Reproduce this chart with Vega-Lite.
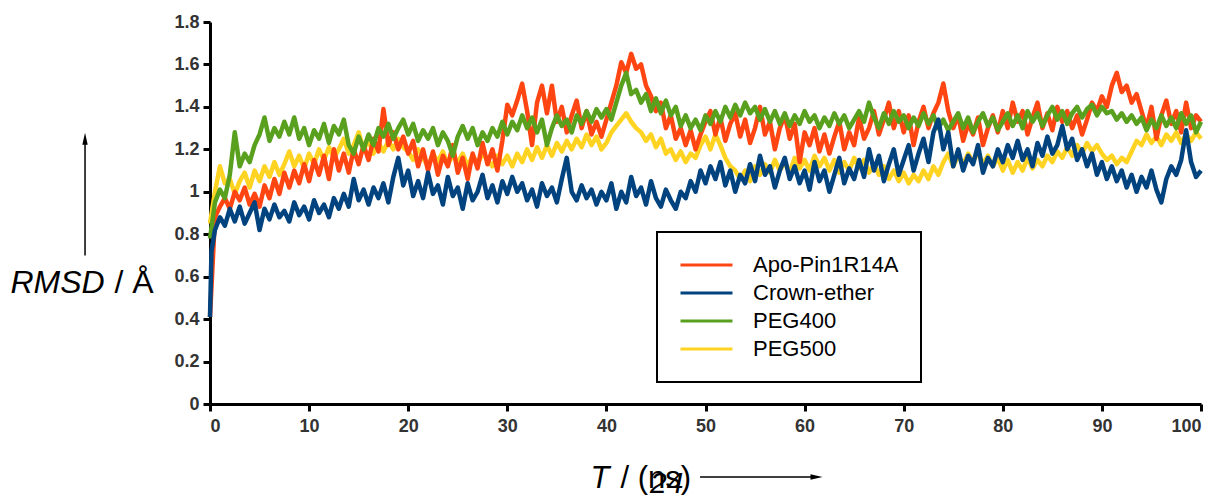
{
"$schema":"https://vega.github.io/schema/vega-lite/v6.json",
"width":991,"height":382,
"autosize":{"type":"none"},
"padding":{"left":210,"top":22,"right":22,"bottom":93},
"background":"white",
"config":{"view":{"stroke":null},
"axis":{"grid":false,"domainColor":"black","domainWidth":3,"tickColor":"black","tickWidth":3,"tickSize":7,"labelFont":"Liberation Sans","labelFontWeight":"bold","labelFontSize":18,"labelColor":"#333333","titleFont":"Liberation Sans","titleFontWeight":"normal","titleColor":"black"}},
"title":{"text":"24","orient":"bottom","anchor":"start","frame":"group","dx":440,"offset":-24,"baseline":"top","font":"Liberation Sans","fontSize":30,"fontStyle":"italic","fontWeight":"normal","color":"black"},
"datasets":{
"apo":[{"t":0,"r":0.41},{"t":0.5,"r":0.88},{"t":1,"r":0.93},{"t":1.5,"r":0.97},{"t":2,"r":0.92},{"t":2.5,"r":1.0},{"t":3,"r":0.96},{"t":3.5,"r":1.02},{"t":4,"r":0.94},{"t":4.5,"r":0.99},{"t":5,"r":0.93},{"t":5.5,"r":1.03},{"t":6,"r":0.97},{"t":6.5,"r":1.06},{"t":7,"r":0.99},{"t":7.5,"r":1.09},{"t":8,"r":1.02},{"t":8.5,"r":1.1},{"t":9,"r":1.04},{"t":9.5,"r":1.13},{"t":10,"r":1.05},{"t":10.5,"r":1.15},{"t":11,"r":1.08},{"t":11.5,"r":1.17},{"t":12,"r":1.06},{"t":12.5,"r":1.2},{"t":13,"r":1.1},{"t":13.5,"r":1.18},{"t":14,"r":1.09},{"t":14.5,"r":1.2},{"t":15,"r":1.13},{"t":15.5,"r":1.22},{"t":16,"r":1.15},{"t":16.5,"r":1.25},{"t":17,"r":1.19},{"t":17.5,"r":1.39},{"t":18,"r":1.22},{"t":18.5,"r":1.28},{"t":19,"r":1.2},{"t":19.5,"r":1.26},{"t":20,"r":1.18},{"t":20.5,"r":1.24},{"t":21,"r":1.12},{"t":21.5,"r":1.2},{"t":22,"r":1.1},{"t":22.5,"r":1.19},{"t":23,"r":1.08},{"t":23.5,"r":1.17},{"t":24,"r":1.12},{"t":24.5,"r":1.22},{"t":25,"r":1.09},{"t":25.5,"r":1.16},{"t":26,"r":1.06},{"t":26.5,"r":1.18},{"t":27,"r":1.11},{"t":27.5,"r":1.23},{"t":28,"r":1.13},{"t":28.5,"r":1.2},{"t":29,"r":1.1},{"t":29.5,"r":1.24},{"t":30,"r":1.41},{"t":30.5,"r":1.36},{"t":31,"r":1.43},{"t":31.5,"r":1.51},{"t":32,"r":1.38},{"t":32.5,"r":1.22},{"t":33,"r":1.42},{"t":33.5,"r":1.5},{"t":34,"r":1.37},{"t":34.5,"r":1.5},{"t":35,"r":1.33},{"t":35.5,"r":1.4},{"t":36,"r":1.28},{"t":36.5,"r":1.36},{"t":37,"r":1.43},{"t":37.5,"r":1.3},{"t":38,"r":1.38},{"t":38.5,"r":1.27},{"t":39,"r":1.33},{"t":39.5,"r":1.26},{"t":40,"r":1.34},{"t":40.5,"r":1.42},{"t":41,"r":1.5},{"t":41.5,"r":1.61},{"t":42,"r":1.56},{"t":42.5,"r":1.65},{"t":43,"r":1.58},{"t":43.5,"r":1.6},{"t":44,"r":1.5},{"t":44.5,"r":1.45},{"t":45,"r":1.38},{"t":45.5,"r":1.42},{"t":46,"r":1.3},{"t":46.5,"r":1.36},{"t":47,"r":1.25},{"t":47.5,"r":1.3},{"t":48,"r":1.22},{"t":48.5,"r":1.29},{"t":49,"r":1.2},{"t":49.5,"r":1.27},{"t":50,"r":1.33},{"t":50.5,"r":1.38},{"t":51,"r":1.27},{"t":51.5,"r":1.35},{"t":52,"r":1.24},{"t":52.5,"r":1.32},{"t":53,"r":1.37},{"t":53.5,"r":1.26},{"t":54,"r":1.34},{"t":54.5,"r":1.23},{"t":55,"r":1.3},{"t":55.5,"r":1.4},{"t":56,"r":1.27},{"t":56.5,"r":1.33},{"t":57,"r":1.2},{"t":57.5,"r":1.3},{"t":58,"r":1.36},{"t":58.5,"r":1.25},{"t":59,"r":1.32},{"t":59.5,"r":1.14},{"t":60,"r":1.28},{"t":60.5,"r":1.22},{"t":61,"r":1.3},{"t":61.5,"r":1.19},{"t":62,"r":1.27},{"t":62.5,"r":1.18},{"t":63,"r":1.26},{"t":63.5,"r":1.33},{"t":64,"r":1.2},{"t":64.5,"r":1.28},{"t":65,"r":1.22},{"t":65.5,"r":1.35},{"t":66,"r":1.25},{"t":66.5,"r":1.3},{"t":67,"r":1.38},{"t":67.5,"r":1.27},{"t":68,"r":1.34},{"t":68.5,"r":1.42},{"t":69,"r":1.3},{"t":69.5,"r":1.38},{"t":70,"r":1.28},{"t":70.5,"r":1.36},{"t":71,"r":1.22},{"t":71.5,"r":1.33},{"t":72,"r":1.4},{"t":72.5,"r":1.3},{"t":73,"r":1.37},{"t":73.5,"r":1.42},{"t":74,"r":1.51},{"t":74.5,"r":1.38},{"t":75,"r":1.3},{"t":75.5,"r":1.36},{"t":76,"r":1.24},{"t":76.5,"r":1.32},{"t":77,"r":1.27},{"t":77.5,"r":1.35},{"t":78,"r":1.22},{"t":78.5,"r":1.3},{"t":79,"r":1.36},{"t":79.5,"r":1.28},{"t":80,"r":1.38},{"t":80.5,"r":1.3},{"t":81,"r":1.42},{"t":81.5,"r":1.33},{"t":82,"r":1.38},{"t":82.5,"r":1.27},{"t":83,"r":1.35},{"t":83.5,"r":1.42},{"t":84,"r":1.3},{"t":84.5,"r":1.37},{"t":85,"r":1.29},{"t":85.5,"r":1.4},{"t":86,"r":1.33},{"t":86.5,"r":1.38},{"t":87,"r":1.3},{"t":87.5,"r":1.36},{"t":88,"r":1.27},{"t":88.5,"r":1.34},{"t":89,"r":1.42},{"t":89.5,"r":1.38},{"t":90,"r":1.45},{"t":90.5,"r":1.4},{"t":91,"r":1.5},{"t":91.5,"r":1.56},{"t":92,"r":1.47},{"t":92.5,"r":1.5},{"t":93,"r":1.42},{"t":93.5,"r":1.46},{"t":94,"r":1.38},{"t":94.5,"r":1.3},{"t":95,"r":1.4},{"t":95.5,"r":1.25},{"t":96,"r":1.36},{"t":96.5,"r":1.43},{"t":97,"r":1.32},{"t":97.5,"r":1.38},{"t":98,"r":1.28},{"t":98.5,"r":1.42},{"t":99,"r":1.3},{"t":99.5,"r":1.36},{"t":100,"r":1.33}],
"crown":[{"t":0,"r":0.41},{"t":0.15,"r":0.72},{"t":0.5,"r":0.82},{"t":1,"r":0.88},{"t":1.5,"r":0.84},{"t":2,"r":0.92},{"t":2.5,"r":0.86},{"t":3,"r":0.93},{"t":3.5,"r":0.85},{"t":4,"r":0.9},{"t":4.5,"r":0.95},{"t":5,"r":0.82},{"t":5.5,"r":0.92},{"t":6,"r":0.87},{"t":6.5,"r":0.94},{"t":7,"r":0.88},{"t":7.5,"r":0.91},{"t":8,"r":0.86},{"t":8.5,"r":0.95},{"t":9,"r":0.89},{"t":9.5,"r":0.93},{"t":10,"r":0.87},{"t":10.5,"r":0.96},{"t":11,"r":0.9},{"t":11.5,"r":0.94},{"t":12,"r":0.88},{"t":12.5,"r":0.97},{"t":13,"r":0.92},{"t":13.5,"r":0.99},{"t":14,"r":0.93},{"t":14.5,"r":1.06},{"t":15,"r":0.96},{"t":15.5,"r":1.01},{"t":16,"r":0.94},{"t":16.5,"r":1.02},{"t":17,"r":0.97},{"t":17.5,"r":1.04},{"t":18,"r":0.95},{"t":18.5,"r":1.07},{"t":19,"r":1.16},{"t":19.5,"r":1.03},{"t":20,"r":1.1},{"t":20.5,"r":0.98},{"t":21,"r":1.05},{"t":21.5,"r":0.97},{"t":22,"r":1.09},{"t":22.5,"r":0.99},{"t":23,"r":1.03},{"t":23.5,"r":0.94},{"t":24,"r":1.07},{"t":24.5,"r":0.98},{"t":25,"r":1.02},{"t":25.5,"r":0.92},{"t":26,"r":1.04},{"t":26.5,"r":0.96},{"t":27,"r":1.0},{"t":27.5,"r":1.08},{"t":28,"r":0.97},{"t":28.5,"r":1.03},{"t":29,"r":0.95},{"t":29.5,"r":1.05},{"t":30,"r":0.99},{"t":30.5,"r":1.07},{"t":31,"r":1.0},{"t":31.5,"r":1.04},{"t":32,"r":0.96},{"t":32.5,"r":1.01},{"t":33,"r":0.93},{"t":33.5,"r":1.04},{"t":34,"r":0.98},{"t":34.5,"r":1.02},{"t":35,"r":0.95},{"t":35.5,"r":1.06},{"t":36,"r":1.16},{"t":36.5,"r":1.0},{"t":37,"r":0.96},{"t":37.5,"r":1.03},{"t":38,"r":0.97},{"t":38.5,"r":1.01},{"t":39,"r":0.94},{"t":39.5,"r":1.0},{"t":40,"r":0.96},{"t":40.5,"r":1.04},{"t":41,"r":0.92},{"t":41.5,"r":1.0},{"t":42,"r":0.95},{"t":42.5,"r":1.07},{"t":43,"r":0.98},{"t":43.5,"r":1.02},{"t":44,"r":0.94},{"t":44.5,"r":1.05},{"t":45,"r":0.97},{"t":45.5,"r":0.93},{"t":46,"r":1.01},{"t":46.5,"r":0.96},{"t":47,"r":0.92},{"t":47.5,"r":1.0},{"t":48,"r":0.97},{"t":48.5,"r":1.05},{"t":49,"r":1.0},{"t":49.5,"r":1.1},{"t":50,"r":1.04},{"t":50.5,"r":1.12},{"t":51,"r":1.06},{"t":51.5,"r":1.14},{"t":52,"r":1.03},{"t":52.5,"r":1.1},{"t":53,"r":1.0},{"t":53.5,"r":1.08},{"t":54,"r":1.04},{"t":54.5,"r":1.13},{"t":55,"r":1.05},{"t":55.5,"r":1.17},{"t":56,"r":1.08},{"t":56.5,"r":1.12},{"t":57,"r":1.02},{"t":57.5,"r":1.1},{"t":58,"r":1.16},{"t":58.5,"r":1.06},{"t":59,"r":1.12},{"t":59.5,"r":1.04},{"t":60,"r":1.1},{"t":60.5,"r":1.01},{"t":61,"r":1.14},{"t":61.5,"r":1.05},{"t":62,"r":1.1},{"t":62.5,"r":1.0},{"t":63,"r":1.08},{"t":63.5,"r":1.16},{"t":64,"r":1.04},{"t":64.5,"r":1.11},{"t":65,"r":1.06},{"t":65.5,"r":1.15},{"t":66,"r":1.07},{"t":66.5,"r":1.2},{"t":67,"r":1.1},{"t":67.5,"r":1.17},{"t":68,"r":1.05},{"t":68.5,"r":1.13},{"t":69,"r":1.2},{"t":69.5,"r":1.08},{"t":70,"r":1.15},{"t":70.5,"r":1.22},{"t":71,"r":1.1},{"t":71.5,"r":1.18},{"t":72,"r":1.25},{"t":72.5,"r":1.14},{"t":73,"r":1.28},{"t":73.5,"r":1.34},{"t":74,"r":1.2},{"t":74.5,"r":1.28},{"t":75,"r":1.12},{"t":75.5,"r":1.2},{"t":76,"r":1.1},{"t":76.5,"r":1.17},{"t":77,"r":1.13},{"t":77.5,"r":1.22},{"t":78,"r":1.09},{"t":78.5,"r":1.16},{"t":79,"r":1.12},{"t":79.5,"r":1.2},{"t":80,"r":1.14},{"t":80.5,"r":1.22},{"t":81,"r":1.16},{"t":81.5,"r":1.24},{"t":82,"r":1.15},{"t":82.5,"r":1.2},{"t":83,"r":1.12},{"t":83.5,"r":1.23},{"t":84,"r":1.17},{"t":84.5,"r":1.26},{"t":85,"r":1.18},{"t":85.5,"r":1.22},{"t":86,"r":1.31},{"t":86.5,"r":1.2},{"t":87,"r":1.25},{"t":87.5,"r":1.15},{"t":88,"r":1.2},{"t":88.5,"r":1.12},{"t":89,"r":1.18},{"t":89.5,"r":1.08},{"t":90,"r":1.14},{"t":90.5,"r":1.06},{"t":91,"r":1.12},{"t":91.5,"r":1.05},{"t":92,"r":1.1},{"t":92.5,"r":1.02},{"t":93,"r":1.08},{"t":93.5,"r":1.0},{"t":94,"r":1.07},{"t":94.5,"r":1.02},{"t":95,"r":1.1},{"t":95.5,"r":1.01},{"t":96,"r":0.95},{"t":96.5,"r":1.06},{"t":97,"r":1.12},{"t":97.5,"r":1.08},{"t":98,"r":1.15},{"t":98.5,"r":1.29},{"t":99,"r":1.14},{"t":99.5,"r":1.07},{"t":100,"r":1.1}],
"p400":[{"t":0,"r":0.78},{"t":0.5,"r":0.95},{"t":1,"r":1.01},{"t":1.5,"r":0.97},{"t":2,"r":1.08},{"t":2.5,"r":1.28},{"t":3,"r":1.12},{"t":3.5,"r":1.18},{"t":4,"r":1.14},{"t":4.5,"r":1.22},{"t":5,"r":1.27},{"t":5.5,"r":1.35},{"t":6,"r":1.24},{"t":6.5,"r":1.3},{"t":7,"r":1.26},{"t":7.5,"r":1.33},{"t":8,"r":1.27},{"t":8.5,"r":1.35},{"t":9,"r":1.25},{"t":9.5,"r":1.3},{"t":10,"r":1.22},{"t":10.5,"r":1.29},{"t":11,"r":1.25},{"t":11.5,"r":1.32},{"t":12,"r":1.23},{"t":12.5,"r":1.31},{"t":13,"r":1.27},{"t":13.5,"r":1.34},{"t":14,"r":1.22},{"t":14.5,"r":1.18},{"t":15,"r":1.26},{"t":15.5,"r":1.2},{"t":16,"r":1.27},{"t":16.5,"r":1.22},{"t":17,"r":1.3},{"t":17.5,"r":1.26},{"t":18,"r":1.32},{"t":18.5,"r":1.25},{"t":19,"r":1.3},{"t":19.5,"r":1.34},{"t":20,"r":1.27},{"t":20.5,"r":1.32},{"t":21,"r":1.24},{"t":21.5,"r":1.29},{"t":22,"r":1.25},{"t":22.5,"r":1.3},{"t":23,"r":1.22},{"t":23.5,"r":1.28},{"t":24,"r":1.24},{"t":24.5,"r":1.17},{"t":25,"r":1.26},{"t":25.5,"r":1.31},{"t":26,"r":1.25},{"t":26.5,"r":1.3},{"t":27,"r":1.22},{"t":27.5,"r":1.28},{"t":28,"r":1.24},{"t":28.5,"r":1.3},{"t":29,"r":1.26},{"t":29.5,"r":1.33},{"t":30,"r":1.27},{"t":30.5,"r":1.33},{"t":31,"r":1.29},{"t":31.5,"r":1.36},{"t":32,"r":1.3},{"t":32.5,"r":1.35},{"t":33,"r":1.28},{"t":33.5,"r":1.34},{"t":34,"r":1.22},{"t":34.5,"r":1.3},{"t":35,"r":1.36},{"t":35.5,"r":1.31},{"t":36,"r":1.34},{"t":36.5,"r":1.28},{"t":37,"r":1.36},{"t":37.5,"r":1.32},{"t":38,"r":1.38},{"t":38.5,"r":1.33},{"t":39,"r":1.39},{"t":39.5,"r":1.35},{"t":40,"r":1.39},{"t":40.5,"r":1.34},{"t":41,"r":1.42},{"t":41.5,"r":1.5},{"t":42,"r":1.56},{"t":42.5,"r":1.46},{"t":43,"r":1.48},{"t":43.5,"r":1.42},{"t":44,"r":1.46},{"t":44.5,"r":1.38},{"t":45,"r":1.44},{"t":45.5,"r":1.37},{"t":46,"r":1.43},{"t":46.5,"r":1.36},{"t":47,"r":1.4},{"t":47.5,"r":1.31},{"t":48,"r":1.36},{"t":48.5,"r":1.3},{"t":49,"r":1.34},{"t":49.5,"r":1.29},{"t":50,"r":1.36},{"t":50.5,"r":1.32},{"t":51,"r":1.38},{"t":51.5,"r":1.33},{"t":52,"r":1.4},{"t":52.5,"r":1.35},{"t":53,"r":1.41},{"t":53.5,"r":1.36},{"t":54,"r":1.42},{"t":54.5,"r":1.37},{"t":55,"r":1.4},{"t":55.5,"r":1.34},{"t":56,"r":1.39},{"t":56.5,"r":1.33},{"t":57,"r":1.38},{"t":57.5,"r":1.32},{"t":58,"r":1.37},{"t":58.5,"r":1.31},{"t":59,"r":1.36},{"t":59.5,"r":1.32},{"t":60,"r":1.38},{"t":60.5,"r":1.33},{"t":61,"r":1.36},{"t":61.5,"r":1.3},{"t":62,"r":1.35},{"t":62.5,"r":1.31},{"t":63,"r":1.37},{"t":63.5,"r":1.32},{"t":64,"r":1.36},{"t":64.5,"r":1.3},{"t":65,"r":1.34},{"t":65.5,"r":1.38},{"t":66,"r":1.33},{"t":66.5,"r":1.42},{"t":67,"r":1.35},{"t":67.5,"r":1.3},{"t":68,"r":1.37},{"t":68.5,"r":1.32},{"t":69,"r":1.38},{"t":69.5,"r":1.33},{"t":70,"r":1.36},{"t":70.5,"r":1.3},{"t":71,"r":1.35},{"t":71.5,"r":1.31},{"t":72,"r":1.37},{"t":72.5,"r":1.32},{"t":73,"r":1.36},{"t":73.5,"r":1.3},{"t":74,"r":1.34},{"t":74.5,"r":1.29},{"t":75,"r":1.33},{"t":75.5,"r":1.37},{"t":76,"r":1.3},{"t":76.5,"r":1.35},{"t":77,"r":1.28},{"t":77.5,"r":1.33},{"t":78,"r":1.37},{"t":78.5,"r":1.31},{"t":79,"r":1.35},{"t":79.5,"r":1.29},{"t":80,"r":1.33},{"t":80.5,"r":1.37},{"t":81,"r":1.31},{"t":81.5,"r":1.36},{"t":82,"r":1.3},{"t":82.5,"r":1.38},{"t":83,"r":1.33},{"t":83.5,"r":1.37},{"t":84,"r":1.31},{"t":84.5,"r":1.36},{"t":85,"r":1.4},{"t":85.5,"r":1.34},{"t":86,"r":1.38},{"t":86.5,"r":1.32},{"t":87,"r":1.37},{"t":87.5,"r":1.4},{"t":88,"r":1.35},{"t":88.5,"r":1.39},{"t":89,"r":1.41},{"t":89.5,"r":1.36},{"t":90,"r":1.4},{"t":90.5,"r":1.37},{"t":91,"r":1.38},{"t":91.5,"r":1.34},{"t":92,"r":1.37},{"t":92.5,"r":1.33},{"t":93,"r":1.36},{"t":93.5,"r":1.32},{"t":94,"r":1.35},{"t":94.5,"r":1.29},{"t":95,"r":1.34},{"t":95.5,"r":1.3},{"t":96,"r":1.36},{"t":96.5,"r":1.31},{"t":97,"r":1.35},{"t":97.5,"r":1.3},{"t":98,"r":1.37},{"t":98.5,"r":1.32},{"t":99,"r":1.36},{"t":99.5,"r":1.28},{"t":100,"r":1.33}],
"p500":[{"t":0,"r":0.85},{"t":0.5,"r":1.0},{"t":1,"r":1.12},{"t":1.5,"r":1.04},{"t":2,"r":1.06},{"t":2.5,"r":0.99},{"t":3,"r":1.05},{"t":3.5,"r":1.09},{"t":4,"r":1.02},{"t":4.5,"r":1.1},{"t":5,"r":1.05},{"t":5.5,"r":1.12},{"t":6,"r":1.07},{"t":6.5,"r":1.14},{"t":7,"r":1.08},{"t":7.5,"r":1.13},{"t":8,"r":1.19},{"t":8.5,"r":1.12},{"t":9,"r":1.17},{"t":9.5,"r":1.11},{"t":10,"r":1.18},{"t":10.5,"r":1.13},{"t":11,"r":1.2},{"t":11.5,"r":1.15},{"t":12,"r":1.21},{"t":12.5,"r":1.16},{"t":13,"r":1.2},{"t":13.5,"r":1.25},{"t":14,"r":1.18},{"t":14.5,"r":1.22},{"t":15,"r":1.28},{"t":15.5,"r":1.2},{"t":16,"r":1.24},{"t":16.5,"r":1.18},{"t":17,"r":1.23},{"t":17.5,"r":1.19},{"t":18,"r":1.24},{"t":18.5,"r":1.2},{"t":19,"r":1.25},{"t":19.5,"r":1.21},{"t":20,"r":1.19},{"t":20.5,"r":1.15},{"t":21,"r":1.2},{"t":21.5,"r":1.16},{"t":22,"r":1.12},{"t":22.5,"r":1.18},{"t":23,"r":1.14},{"t":23.5,"r":1.19},{"t":24,"r":1.13},{"t":24.5,"r":1.17},{"t":25,"r":1.14},{"t":25.5,"r":1.18},{"t":26,"r":1.12},{"t":26.5,"r":1.17},{"t":27,"r":1.13},{"t":27.5,"r":1.18},{"t":28,"r":1.15},{"t":28.5,"r":1.12},{"t":29,"r":1.17},{"t":29.5,"r":1.13},{"t":30,"r":1.17},{"t":30.5,"r":1.12},{"t":31,"r":1.18},{"t":31.5,"r":1.14},{"t":32,"r":1.2},{"t":32.5,"r":1.15},{"t":33,"r":1.21},{"t":33.5,"r":1.16},{"t":34,"r":1.22},{"t":34.5,"r":1.17},{"t":35,"r":1.23},{"t":35.5,"r":1.19},{"t":36,"r":1.24},{"t":36.5,"r":1.2},{"t":37,"r":1.25},{"t":37.5,"r":1.21},{"t":38,"r":1.27},{"t":38.5,"r":1.22},{"t":39,"r":1.26},{"t":39.5,"r":1.2},{"t":40,"r":1.23},{"t":40.5,"r":1.28},{"t":41,"r":1.31},{"t":41.5,"r":1.34},{"t":42,"r":1.37},{"t":42.5,"r":1.33},{"t":43,"r":1.3},{"t":43.5,"r":1.28},{"t":44,"r":1.24},{"t":44.5,"r":1.27},{"t":45,"r":1.21},{"t":45.5,"r":1.25},{"t":46,"r":1.18},{"t":46.5,"r":1.2},{"t":47,"r":1.15},{"t":47.5,"r":1.19},{"t":48,"r":1.14},{"t":48.5,"r":1.18},{"t":49,"r":1.16},{"t":49.5,"r":1.22},{"t":50,"r":1.26},{"t":50.5,"r":1.2},{"t":51,"r":1.27},{"t":51.5,"r":1.22},{"t":52,"r":1.16},{"t":52.5,"r":1.12},{"t":53,"r":1.1},{"t":53.5,"r":1.06},{"t":54,"r":1.1},{"t":54.5,"r":1.05},{"t":55,"r":1.12},{"t":55.5,"r":1.08},{"t":56,"r":1.13},{"t":56.5,"r":1.09},{"t":57,"r":1.15},{"t":57.5,"r":1.1},{"t":58,"r":1.14},{"t":58.5,"r":1.09},{"t":59,"r":1.16},{"t":59.5,"r":1.11},{"t":60,"r":1.15},{"t":60.5,"r":1.1},{"t":61,"r":1.17},{"t":61.5,"r":1.12},{"t":62,"r":1.16},{"t":62.5,"r":1.1},{"t":63,"r":1.15},{"t":63.5,"r":1.09},{"t":64,"r":1.14},{"t":64.5,"r":1.1},{"t":65,"r":1.16},{"t":65.5,"r":1.11},{"t":66,"r":1.15},{"t":66.5,"r":1.09},{"t":67,"r":1.13},{"t":67.5,"r":1.08},{"t":68,"r":1.12},{"t":68.5,"r":1.06},{"t":69,"r":1.1},{"t":69.5,"r":1.05},{"t":70,"r":1.09},{"t":70.5,"r":1.04},{"t":71,"r":1.08},{"t":71.5,"r":1.05},{"t":72,"r":1.1},{"t":72.5,"r":1.06},{"t":73,"r":1.12},{"t":73.5,"r":1.08},{"t":74,"r":1.14},{"t":74.5,"r":1.18},{"t":75,"r":1.12},{"t":75.5,"r":1.17},{"t":76,"r":1.13},{"t":76.5,"r":1.18},{"t":77,"r":1.14},{"t":77.5,"r":1.19},{"t":78,"r":1.13},{"t":78.5,"r":1.17},{"t":79,"r":1.12},{"t":79.5,"r":1.16},{"t":80,"r":1.1},{"t":80.5,"r":1.15},{"t":81,"r":1.09},{"t":81.5,"r":1.14},{"t":82,"r":1.1},{"t":82.5,"r":1.16},{"t":83,"r":1.11},{"t":83.5,"r":1.15},{"t":84,"r":1.12},{"t":84.5,"r":1.17},{"t":85,"r":1.14},{"t":85.5,"r":1.19},{"t":86,"r":1.16},{"t":86.5,"r":1.21},{"t":87,"r":1.17},{"t":87.5,"r":1.22},{"t":88,"r":1.18},{"t":88.5,"r":1.23},{"t":89,"r":1.19},{"t":89.5,"r":1.22},{"t":90,"r":1.18},{"t":90.5,"r":1.15},{"t":91,"r":1.17},{"t":91.5,"r":1.13},{"t":92,"r":1.16},{"t":92.5,"r":1.14},{"t":93,"r":1.19},{"t":93.5,"r":1.24},{"t":94,"r":1.22},{"t":94.5,"r":1.27},{"t":95,"r":1.23},{"t":95.5,"r":1.26},{"t":96,"r":1.22},{"t":96.5,"r":1.27},{"t":97,"r":1.24},{"t":97.5,"r":1.28},{"t":98,"r":1.23},{"t":98.5,"r":1.27},{"t":99,"r":1.24},{"t":99.5,"r":1.28},{"t":100,"r":1.25}]
},
"resolve":{"axis":{"x":"independent","y":"independent"}},
"layer":[
{"data":{"name":"p500"},"mark":{"type":"line","strokeWidth":4.5,"strokeJoin":"round"},
 "encoding":{
  "x":{"field":"t","type":"quantitative","scale":{"domain":[0,100],"nice":false},
   "axis":{"values":[0,10,20,30,40,50,60,70,80,90,100],"labelPadding":6,"title":"T","titleFontStyle":"italic","titleFontSize":31,"titleAlign":"left","titleBaseline":"alphabetic","titleX":380,"titleY":83,"orient":"bottom"}},
  "y":{"field":"r","type":"quantitative","scale":{"domain":[0,1.8],"nice":false},
   "axis":{"values":[0,0.2,0.4,0.6,0.8,1,1.2,1.4,1.6,1.8],"format":"~g","labelPadding":4,"title":"RMSD","titleFontStyle":"italic","titleFontSize":32,"titleAngle":0,"titleAlign":"left","titleBaseline":"alphabetic","titleX":-200,"titleY":270,"orient":"left"}},
  "color":{"datum":"PEG500","type":"nominal","scale":{"domain":["Apo-Pin1R14A","Crown-ether","PEG400","PEG500"],"range":["#ff4612","#00437f","#58a01e","#ffd321"]},
   "legend":{"title":null,"orient":"none","legendX":447,"legendY":210,"symbolType":"stroke","symbolSize":2704,"symbolStrokeWidth":3,"clipHeight":22,"rowPadding":6,"labelOffset":19,"labelFont":"Liberation Sans","labelFontSize":22,"labelColor":"black","padding":22,"strokeColor":"black","fillColor":"white","encode":{"legend":{"update":{"strokeWidth":{"value":2}}}}}}}},
{"data":{"name":"apo"},"mark":{"type":"line","strokeWidth":4.5,"strokeJoin":"round"},
 "encoding":{"x":{"field":"t","type":"quantitative","axis":null},"y":{"field":"r","type":"quantitative","axis":null},"color":{"datum":"Apo-Pin1R14A","type":"nominal"}}},
{"data":{"name":"p400"},"mark":{"type":"line","strokeWidth":4.5,"strokeJoin":"round"},
 "encoding":{"x":{"field":"t","type":"quantitative","axis":null},"y":{"field":"r","type":"quantitative","axis":null},"color":{"datum":"PEG400","type":"nominal"}}},
{"data":{"name":"crown"},"mark":{"type":"line","strokeWidth":4.5,"strokeJoin":"round"},
 "encoding":{"x":{"field":"t","type":"quantitative","axis":null},"y":{"field":"r","type":"quantitative","axis":null},"color":{"datum":"Crown-ether","type":"nominal"}}},
{"data":{"values":[{}]},"mark":{"type":"rule","color":"black","strokeWidth":1.5},
 "encoding":{"x":{"datum":-12.61,"axis":{"orient":"bottom","domain":false,"ticks":false,"labels":false,"title":"/ (ns)","titleFontSize":31,"titleAlign":"left","titleBaseline":"alphabetic","titleX":410,"titleY":83}},
  "y":{"datum":0.70,"axis":{"orient":"left","domain":false,"ticks":false,"labels":false,"title":"/ Å","titleFontSize":32,"titleAngle":0,"titleAlign":"left","titleBaseline":"alphabetic","titleX":-96,"titleY":270}},
  "y2":{"datum":1.25}}},
{"data":{"values":[{}]},"mark":{"type":"point","filled":true,"color":"black","opacity":1,"size":144,"shape":"M0,-1L0.45,1L-0.45,1Z"},
 "encoding":{"x":{"datum":-12.61,"axis":null},"y":{"datum":1.25,"axis":null}}},
{"data":{"values":[{}]},"mark":{"type":"rule","color":"black","strokeWidth":1.5},
 "encoding":{"x":{"datum":49.45,"axis":null},"x2":{"datum":61.2},"y":{"datum":-0.344,"axis":null}}},
{"data":{"values":[{}]},"mark":{"type":"point","filled":true,"color":"black","opacity":1,"size":144,"shape":"M1,0L-1,0.45L-1,-0.45Z"},
 "encoding":{"x":{"datum":61.2,"axis":null},"y":{"datum":-0.344,"axis":null}}}
]
}
